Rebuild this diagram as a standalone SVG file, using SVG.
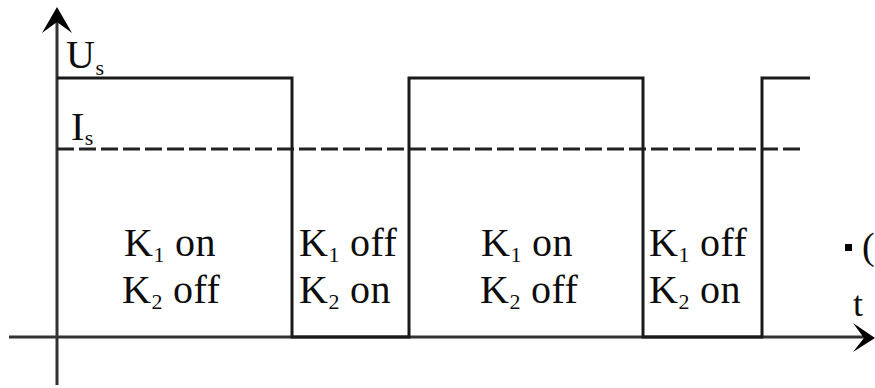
<svg xmlns="http://www.w3.org/2000/svg" width="875" height="388" viewBox="0 0 875 388">
<style>
  text { font-family: "Liberation Serif", "Times New Roman", "DejaVu Serif", serif; }
  .t { font-size: 40px; fill: #0d0d0d; letter-spacing: 0.5px; }
  .sub { font-size: 22px; letter-spacing: 0; }
  .ax { stroke: #333; stroke-width: 3; fill: none; }
  .wave { stroke: #1a1a1a; stroke-width: 3; fill: none; }
  .dash { stroke: #222; stroke-width: 3; fill: none; stroke-dasharray: 17 5; }
  .head { fill: #000; }
</style>
<rect width="875" height="388" fill="#fff"/>
<g id="connectors">
  <path class="ax" d="M57,385 V18"/>
  <path class="head" d="M57,7 L42,33 L57,22 L72,33 Z"/>
  <path class="ax" d="M9,337 H866"/>
  <path class="head" d="M875,338 L853,323 L864,338 L853,352 Z"/>
  <path class="dash" d="M57,149 H805"/>
  <path class="wave" d="M57,78 H292 V337 H409 V78 H643 V337 H762 V78 H810"/>
</g>
<g id="axis-labels">
  <text class="t" x="66" y="68">U<tspan class="sub" dy="7">s</tspan></text>
  <text class="t" x="71" y="140">I<tspan class="sub" dy="5">s</tspan></text>
  <text class="t" x="853" y="316" style="font-size:36px">t</text>
  <rect x="845" y="244" width="7" height="7" fill="#000"/>
  <text class="t" x="862" y="259" style="font-size:38px">(</text>
</g>
<g id="phase1">
  <text class="t" x="124" y="256">K<tspan class="sub" dy="6">1</tspan><tspan dy="-6"> on</tspan></text>
  <text class="t" x="122" y="303">K<tspan class="sub" dy="6">2</tspan><tspan dy="-6"> off</tspan></text>
</g>
<g id="phase2">
  <text class="t" x="299" y="256">K<tspan class="sub" dy="6">1</tspan><tspan dy="-6"> off</tspan></text>
  <text class="t" x="299" y="303">K<tspan class="sub" dy="6">2</tspan><tspan dy="-6"> on</tspan></text>
</g>
<g id="phase3">
  <text class="t" x="481" y="256">K<tspan class="sub" dy="6">1</tspan><tspan dy="-6"> on</tspan></text>
  <text class="t" x="480" y="303">K<tspan class="sub" dy="6">2</tspan><tspan dy="-6"> off</tspan></text>
</g>
<g id="phase4">
  <text class="t" x="649" y="256">K<tspan class="sub" dy="6">1</tspan><tspan dy="-6"> off</tspan></text>
  <text class="t" x="649" y="303">K<tspan class="sub" dy="6">2</tspan><tspan dy="-6"> on</tspan></text>
</g>
</svg>
